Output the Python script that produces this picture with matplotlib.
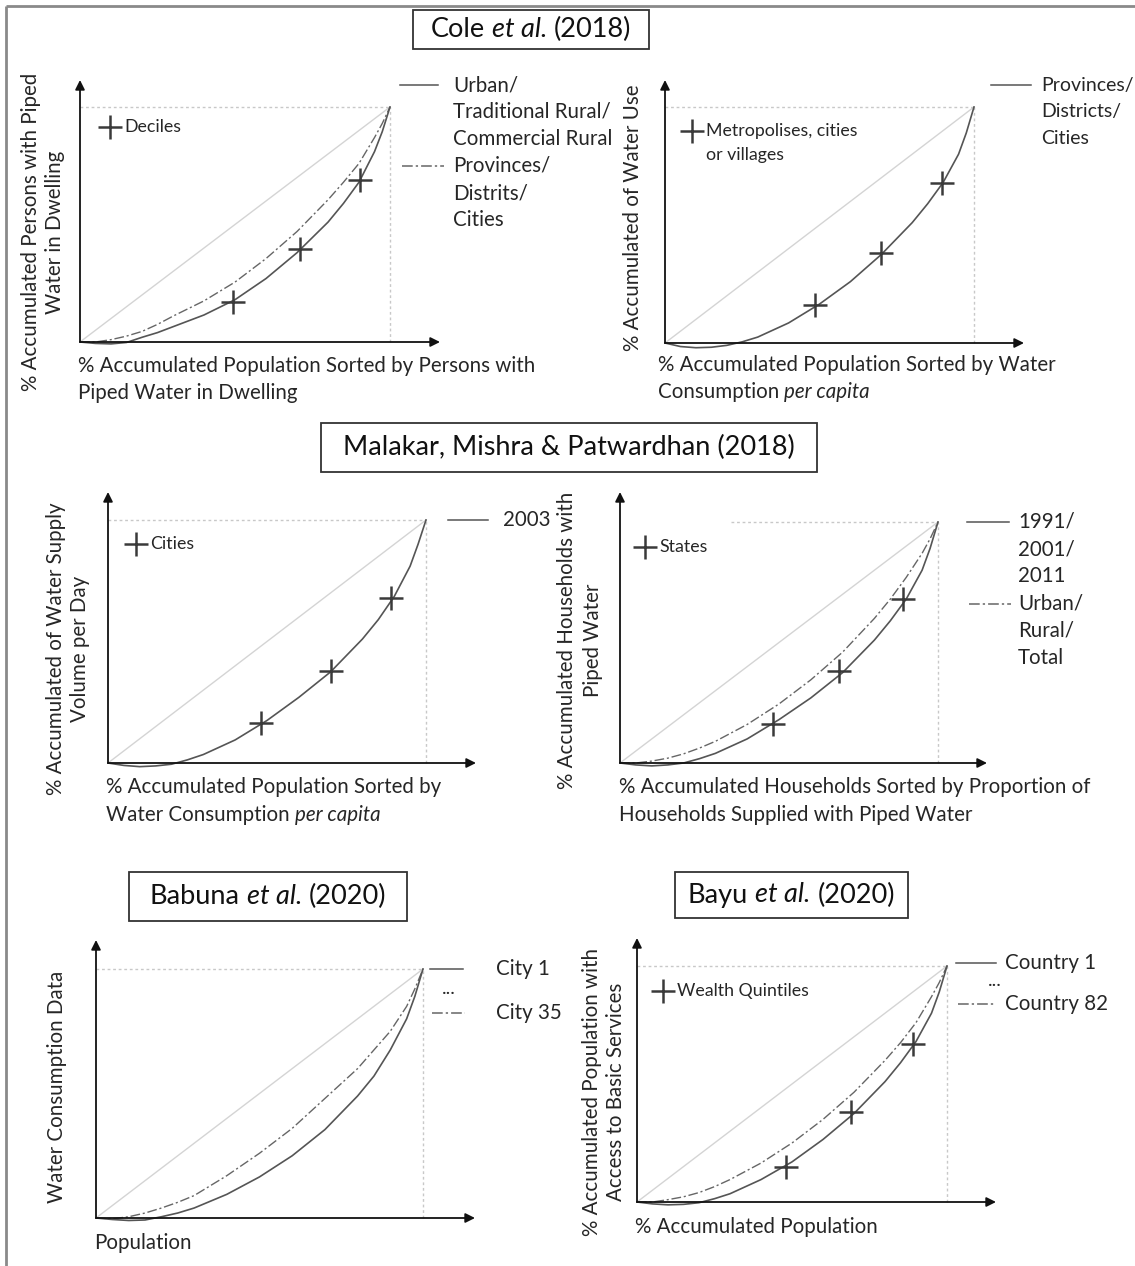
import matplotlib
matplotlib.use("Agg")
import matplotlib.pyplot as plt
from matplotlib.patches import Rectangle

plt.rcParams['font.family'] = ['Lato', 'DejaVu Sans']

W, H = 1135, 1266

# ---------------- data ----------------
x_grid = [0, 0.05, 0.1, 0.15, 0.2, 0.25, 0.3, 0.4, 0.5, 0.6, 0.7, 0.8, 0.85, 0.9, 0.95, 0.975, 1.0]

cole1_solid = [0, -0.006, -0.008, -0.002, 0.02, 0.04, 0.065, 0.115, 0.18, 0.27, 0.38, 0.51, 0.59, 0.68, 0.81, 0.895, 1.0]
cole1_dash = [0, 0.0, 0.01, 0.025, 0.045, 0.075, 0.11, 0.175, 0.255, 0.355, 0.47, 0.605, 0.68, 0.76, 0.87, 0.93, 1.0]
cole1_cross_x = [0.495, 0.71, 0.903]
cole1_cross_y = [0.17, 0.396, 0.69]

cole2_solid = [0, -0.015, -0.02, -0.018, -0.01, 0.005, 0.025, 0.085, 0.165, 0.26, 0.375, 0.51, 0.59, 0.68, 0.80, 0.89, 1.0]
cole2_cross_x = [0.485, 0.70, 0.896]
cole2_cross_y = [0.16, 0.38, 0.68]

mal1_solid = [0, -0.01, -0.015, -0.012, -0.005, 0.013, 0.035, 0.095, 0.175, 0.27, 0.375, 0.51, 0.59, 0.685, 0.81, 0.90, 1.0]
mal1_cross_x = [0.48, 0.70, 0.89]
mal1_cross_y = [0.165, 0.38, 0.68]

mal2_solid = [0, -0.008, -0.012, -0.008, 0.0, 0.018, 0.04, 0.10, 0.18, 0.27, 0.375, 0.51, 0.59, 0.68, 0.80, 0.89, 1.0]
mal2_dash = [0, 0.0, 0.008, 0.02, 0.038, 0.062, 0.09, 0.16, 0.245, 0.345, 0.46, 0.60, 0.68, 0.77, 0.87, 0.93, 1.0]
mal2_cross_x = [0.48, 0.69, 0.89]
mal2_cross_y = [0.16, 0.38, 0.68]

bab_solid = [0, -0.006, -0.01, -0.008, 0.005, 0.02, 0.04, 0.095, 0.165, 0.25, 0.355, 0.49, 0.57, 0.675, 0.80, 0.89, 1.0]
bab_dash = [0, -0.003, 0.005, 0.02, 0.04, 0.063, 0.09, 0.17, 0.26, 0.36, 0.48, 0.60, 0.675, 0.75, 0.85, 0.92, 1.0]

bayu_solid = [0, -0.008, -0.012, -0.01, -0.003, 0.014, 0.035, 0.095, 0.17, 0.265, 0.375, 0.51, 0.59, 0.68, 0.80, 0.89, 1.0]
bayu_dash = [0, 0.0, 0.01, 0.022, 0.04, 0.065, 0.095, 0.165, 0.25, 0.35, 0.465, 0.60, 0.675, 0.76, 0.87, 0.93, 1.0]
bayu_cross_x = [0.48, 0.69, 0.89]
bayu_cross_y = [0.15, 0.38, 0.67]

# ---------------- figure ----------------
fig = plt.figure(figsize=(W / 100, H / 100), dpi=100)
fig.patch.set_facecolor('white')
ov = fig.add_axes([0, 0, 1, 1], zorder=5)
ov.set_xlim(0, W)
ov.set_ylim(H, 0)
ov.axis('off')
ov.patch.set_alpha(0)

fig.canvas.draw()
renderer = fig.canvas.get_renderer()

TXT = '#262626'
CURVE = '#555555'
GRID = '#c8c8c8'
DIAG = '#d4d4d4'
DASHSTYLE = (0, (7, 2, 1.5, 2))

# outer frame (only top and left edges fall inside the picture)
ov.plot([6, W], [6, 6], color='#8a8a8a', lw=2, solid_capstyle='butt')
ov.plot([6, 6], [6, H], color='#8a8a8a', lw=2, solid_capstyle='butt')


def width_of(s, size, style='normal'):
    t = ov.text(0, 0, s, fontsize=size, style=style)
    w = t.get_window_extent(renderer).width
    t.remove()
    return w


def rich(x, y, parts, size, ha='left', color=TXT):
    sp = width_of('x x', size) - width_of('xx', size)
    widths = []
    for s, st in parts:
        widths.append(width_of(s, size, st) if s.strip() else 0)
    total = 0
    for (s, st), w in zip(parts, widths):
        total += sp if s == ' ' else w
    cx = x - total / 2 if ha == 'center' else x
    for (s, st), w in zip(parts, widths):
        if s == ' ':
            cx += sp
            continue
        ov.text(cx, y, s, fontsize=size, style=st, ha='left', va='center', color=color)
        cx += w


def title_box(x0, y0, x1, y1, parts, size=19.5):
    ov.add_patch(Rectangle((x0, y0), x1 - x0, y1 - y0, fill=False, ec='#333333', lw=1.3))
    rich((x0 + x1) / 2, (y0 + y1) / 2, parts, size, ha='center', color='#111111')


def panel(origin, corner, xtip, ytip, solid, dash=None, cx=None, cy=None, hline_start=0.0):
    ox, oy = origin
    cxp, cyp = corner
    ax = fig.add_axes([ox / W, (H - oy) / H, (cxp - ox) / W, (oy - cyp) / H])
    ax.set_xlim(0, 1)
    ax.set_ylim(0, 1)
    ax.axis('off')
    ax.patch.set_alpha(0)
    xt = (xtip - ox) / (cxp - ox)
    yt = (oy - ytip) / (oy - cyp)
    ax.plot([0, 1], [0, 1], color=DIAG, lw=1.0, clip_on=False)
    ax.plot([hline_start, 1], [1, 1], color=GRID, lw=1.0, ls=(0, (2, 2)), clip_on=False)
    ax.plot([1, 1], [0, 1], color=GRID, lw=1.0, ls=(0, (2, 2)), clip_on=False)
    if dash is not None:
        ax.plot(x_grid, dash, color='#666666', lw=1.0, ls=DASHSTYLE, clip_on=False)
    ax.plot(x_grid, solid, color=CURVE, lw=1.2, clip_on=False)
    if cx is not None:
        ax.plot(cx, cy, ls='none', marker='+', ms=17, mew=1.8, color='#3a3a3a', clip_on=False)
    for tip in [(xt, 0), (0, yt)]:
        ax.annotate('', xy=tip, xytext=(0, 0), xycoords='data', annotation_clip=False,
                    arrowprops=dict(arrowstyle='-|>', color='#111111', lw=1.3,
                                    mutation_scale=14, shrinkA=0, shrinkB=0))
    return ax


def legend_line(x0, x1, y, dashed=False):
    ov.plot([x0, x1], [y, y], color='#555555' if not dashed else '#666666', lw=1.1,
            ls='-' if not dashed else DASHSTYLE)


SMALL = 12.8


def cross_label(x, y, lines, size=SMALL, dy=24):
    ov.plot([x], [y], ls='none', marker='+', ms=17, mew=1.8, color='#3a3a3a')
    for i, s in enumerate(lines):
        ov.text(x + 14, y + i * dy, s, fontsize=size, ha='left', va='center', color=TXT)


LAB = 14.8
LEG = 14.8

# ---------------- titles ----------------
title_box(413, 10, 649, 49, [('Cole', 'normal'), (' ', 'normal'), ('et al.', 'italic'), (' ', 'normal'), ('(2018)', 'normal')])
title_box(321, 423, 817, 472, [('Malakar, Mishra & Patwardhan (2018)', 'normal')])
title_box(129, 872, 407, 921, [('Babuna', 'normal'), (' ', 'normal'), ('et al.', 'italic'), (' ', 'normal'), ('(2020)', 'normal')])
title_box(675, 872, 908, 918, [('Bayu', 'normal'), (' ', 'normal'), ('et al.', 'italic'), (' ', 'normal'), ('(2020)', 'normal')])

# ---------------- panel 1: Cole (left) ----------------
panel((80, 342), (390, 107), 440, 80, cole1_solid, cole1_dash, cole1_cross_x, cole1_cross_y)
ov.text(43, 232, '% Accumulated Persons with Piped\nWater in Dwelling', rotation=90, fontsize=LAB,
        ha='center', va='center', multialignment='center', linespacing=1.2, color=TXT)
ov.text(78, 366, '% Accumulated Population Sorted by Persons with', fontsize=LAB, ha='left', va='center', color=TXT)
ov.text(78, 393, 'Piped Water in Dwelling', fontsize=LAB, ha='left', va='center', color=TXT)
cross_label(110, 127, ['Deciles'])
legend_line(400, 438, 85)
legend_line(402, 444, 166, dashed=True)
for i, s in enumerate(['Urban/', 'Traditional Rural/', 'Commercial Rural', 'Provinces/', 'Distrits/', 'Cities']):
    ov.text(453, 85 + i * 27, s, fontsize=LEG, ha='left', va='center', color=TXT)

# ---------------- panel 2: Cole (right) ----------------
panel((665, 343), (974, 107), 1024, 80, cole2_solid, None, cole2_cross_x, cole2_cross_y)
ov.text(633, 218, '% Accumulated of Water Use', rotation=90, fontsize=LAB, ha='center', va='center', color=TXT)
ov.text(658, 365, '% Accumulated Population Sorted by Water', fontsize=LAB, ha='left', va='center', color=TXT)
rich(658, 392, [('Consumption', 'normal'), (' ', 'normal'), ('per capita', 'italic')], LAB)
cross_label(692, 131, ['Metropolises, cities', 'or villages'])
legend_line(991, 1031, 85)
for i, s in enumerate(['Provinces/', 'Districts/', 'Cities']):
    ov.text(1041, 85 + i * 27, s, fontsize=14.0, ha='left', va='center', color=TXT)

# ---------------- panel 3: Malakar (left) ----------------
panel((108, 763), (426, 520), 476, 492, mal1_solid, None, mal1_cross_x, mal1_cross_y)
ov.text(68, 649, '% Accumulated of Water Supply\nVolume per Day', rotation=90, fontsize=LAB,
        ha='center', va='center', multialignment='center', linespacing=1.3, color=TXT)
ov.text(106, 787, '% Accumulated Population Sorted by', fontsize=LAB, ha='left', va='center', color=TXT)
rich(106, 815, [('Water Consumption', 'normal'), (' ', 'normal'), ('per capita', 'italic')], LAB)
cross_label(136, 544, ['Cities'])
legend_line(448, 488, 520)
ov.text(503, 520, '2003', fontsize=LEG, ha='left', va='center', color=TXT)

# ---------------- panel 4: Malakar (right) ----------------
panel((620, 763), (938, 522), 987, 492, mal2_solid, mal2_dash, mal2_cross_x, mal2_cross_y, hline_start=0.35)
ov.text(580, 640, '% Accumulated Households with\nPiped Water', rotation=90, fontsize=LAB,
        ha='center', va='center', multialignment='center', linespacing=1.4, color=TXT)
ov.text(619, 787, '% Accumulated Households Sorted by Proportion of', fontsize=LAB, ha='left', va='center', color=TXT)
ov.text(619, 815, 'Households Supplied with Piped Water', fontsize=LAB, ha='left', va='center', color=TXT)
cross_label(645, 547, ['States'])
legend_line(967, 1009, 522)
legend_line(969, 1011, 604, dashed=True)
for i, s in enumerate(['1991/', '2001/', '2011', 'Urban/', 'Rural/', 'Total']):
    ov.text(1018, 522 + i * 27.2, s, fontsize=LEG, ha='left', va='center', color=TXT)

# ---------------- panel 5: Babuna ----------------
panel((96, 1218), (423, 969), 475, 940, bab_solid, bab_dash)
ov.text(57, 1087, 'Water Consumption Data', rotation=90, fontsize=LAB, ha='center', va='center', color=TXT)
ov.text(94, 1243, 'Population', fontsize=LAB, ha='left', va='center', color=TXT)
legend_line(430, 463, 969)
legend_line(432, 465, 1013, dashed=True)
ov.text(449, 988, '...', fontsize=14, ha='center', va='center', color=TXT)
ov.text(496, 969, 'City 1', fontsize=LEG, ha='left', va='center', color=TXT)
ov.text(496, 1013, 'City 35', fontsize=LEG, ha='left', va='center', color=TXT)

# ---------------- panel 6: Bayu ----------------
panel((637, 1202), (947, 966), 996, 938, bayu_solid, bayu_dash, bayu_cross_x, bayu_cross_y)
ov.text(604, 1092, '% Accumulated Population with\nAccess to Basic Services', rotation=90, fontsize=LAB,
        ha='center', va='center', multialignment='center', linespacing=1.3, color=TXT)
ov.text(635, 1227, '% Accumulated Population', fontsize=LAB, ha='left', va='center', color=TXT)
cross_label(663, 991, ['Wealth Quintiles'])
legend_line(956, 996, 963)
legend_line(958, 996, 1004, dashed=True)
ov.text(995, 981, '...', fontsize=14, ha='center', va='center', color=TXT)
ov.text(1005, 963, 'Country 1', fontsize=LEG, ha='left', va='center', color=TXT)
ov.text(1005, 1004, 'Country 82', fontsize=LEG, ha='left', va='center', color=TXT)

fig.savefig('out.png', dpi=100, facecolor='white')
